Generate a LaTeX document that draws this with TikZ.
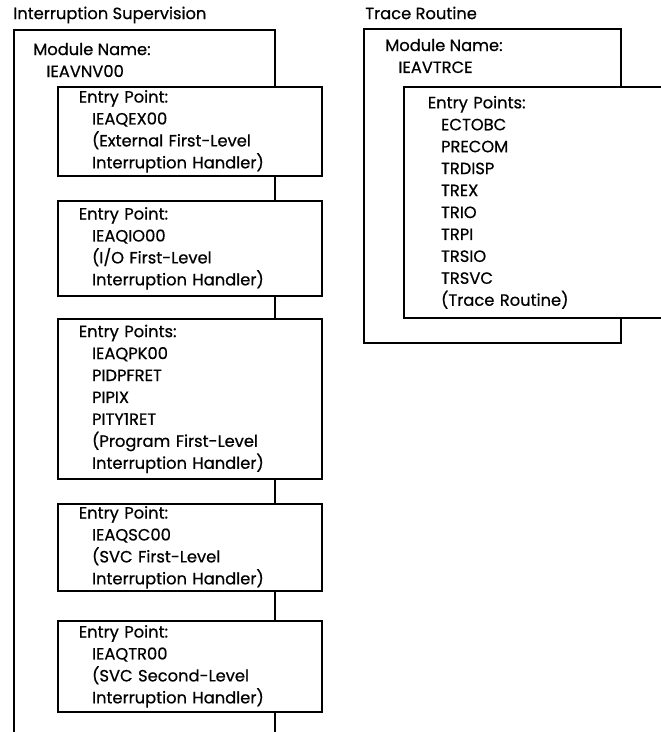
\documentclass[tikz,border=0pt]{standalone}
\usepackage{fontspec}
\setmainfont{Poppins}[FakeBold=0.6]
\newcommand{\ind}{\hspace*{0.33cm}}

\begin{document}
\begin{tikzpicture}[x=0.025cm,y=-0.025cm,
  every node/.style={font=\fontsize{11.6}{15.6}\selectfont},
  frame/.style={draw,line width=1.2pt,anchor=north west,inner sep=0pt},
  entrybox/.style={draw,fill=white,line width=1.2pt,anchor=north west,align=left,
    inner xsep=0.525cm,inner ysep=0pt,text width=5.55cm},
  lbl/.style={anchor=west,align=left,inner sep=0pt}]
\useasboundingbox (0,0) rectangle (660,732);
% interruption supervision
\node[lbl] (ist) at (13,15) {Interruption Supervision};
\node[frame,minimum width=6.525cm,minimum height=18cm] (nv) at (13,29) {};
\node[lbl] (nvn) at (33,60) {Module Name:\\\ind IEAVNV00};
\node[entrybox,minimum height=2.225cm] (ex) at (57,86) {Entry Point:\\\ind IEAQEX00\\\ind (External First-Level\\\ind Interruption Handler)};
\node[entrybox,minimum height=2.375cm] (io) at (57,200) {Entry Point:\\\ind IEAQIO00\\\ind (I/O First-Level\\\ind Interruption Handler)};
\node[entrybox,minimum height=4cm] (pk) at (57,318) {Entry Points:\\\ind IEAQPK00\\\ind PIDPFRET\\\ind PIPIX\\\ind PITY1RET\\\ind (Program First-Level\\\ind Interruption Handler)};
\node[entrybox,minimum height=2.175cm] (sc) at (57,503) {Entry Point:\\\ind IEAQSC00\\\ind (SVC First-Level\\\ind Interruption Handler)};
\node[entrybox,minimum height=2.275cm] (tr) at (57,620) {Entry Point:\\\ind IEAQTR00\\\ind (SVC Second-Level\\\ind Interruption Handler)};
% trace routine
\node[lbl] (trt) at (365,13) {Trace Routine};
\node[frame,minimum width=6.425cm,minimum height=7.85cm] (trc) at (363,28) {};
\node[lbl] (trn) at (385,56) {Module Name:\\\ind IEAVTRCE};
\node[entrybox,text width=5.475cm,inner xsep=0.6cm,minimum height=5.775cm] (trep) at (403,86) {Entry Points:\\\ind ECTOBC\\\ind PRECOM\\\ind TRDISP\\\ind TREX\\\ind TRIO\\\ind TRPI\\\ind TRSIO\\\ind TRSVC\\\ind (Trace Routine)};
\end{tikzpicture}
\end{document}
